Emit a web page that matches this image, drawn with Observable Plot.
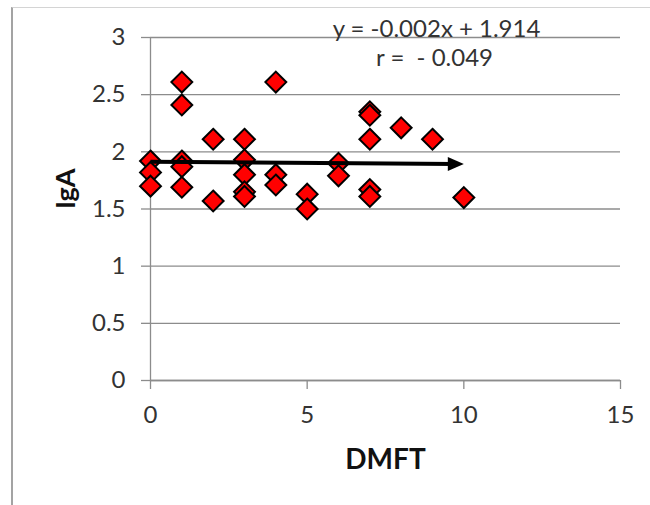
<!DOCTYPE html>
<html>
<head>
<meta charset="utf-8">
<script src="https://cdn.jsdelivr.net/npm/d3@7"></script>
<script src="https://cdn.jsdelivr.net/npm/@observablehq/plot@0.6"></script>
<style>
  html, body { margin: 0; padding: 0; background: #fff; }
  #wrap { position: relative; width: 650px; height: 505px; overflow: hidden; }
  #border { position: absolute; left: 11px; top: 7px; right: -2px; bottom: -2px;
            border-top: 1px solid #d4d4d4; border-left: 2px solid #a3a3a3; pointer-events: none; }
  svg text { white-space: pre; }
</style>
</head>
<body>
<div id="wrap"><div id="border"></div></div>
<script>
// Data
const dmft = [0, 0, 0, 1, 1, 1, 1, 1, 2, 2, 3, 3, 3, 3, 3, 4, 4, 4, 5, 5, 6, 6, 7, 7, 7, 7, 7, 8, 9, 10];
const iga  = [1.92, 1.82, 1.70, 2.61, 2.41, 1.92, 1.87, 1.69, 2.11, 1.57, 2.11, 1.93, 1.80, 1.65, 1.61,
              2.61, 1.80, 1.71, 1.63, 1.50, 1.90, 1.79, 2.35, 2.32, 2.11, 1.67, 1.61, 2.21, 2.11, 1.60];
const xTicks = [0, 5, 10, 15];
const yTicks = [0, 0.5, 1, 1.5, 2, 2.5, 3];
const slope = -0.002;
const intercept = 1.914;
const trendX = [0, 10];
const eqLabel = "y = -0.002x + 1.914";
const rLabel = "r =  - 0.049";
const xTitle = "DMFT";
const yTitle = "IgA";

const points = dmft.map((d, i) => ({x: d, y: iga[i]}));
const trend = [{x1: trendX[0], y1: slope * trendX[0] + intercept, x2: trendX[1], y2: slope * trendX[1] + intercept}];

const arrowHead = {
  draw(ctx, size) {
    const l = Math.sqrt(size);
    ctx.moveTo(0, 0);
    ctx.lineTo(-l, -0.44 * l);
    ctx.lineTo(-l, 0.44 * l);
    ctx.closePath();
  }
};

const gray = "#8c8c8c";
const chart = Plot.plot({
  width: 650,
  height: 505,
  marginLeft: 150,
  marginRight: 30,
  marginTop: 37,
  marginBottom: 125,
  style: {fontFamily: "Lato, 'Open Sans', sans-serif", background: "transparent", color: "#333"},
  x: {domain: [0, 15]},
  y: {domain: [0, 3]},
  marks: [
    Plot.gridY(yTicks, {stroke: gray, strokeOpacity: 1, strokeWidth: 1.3}),
    Plot.ruleX([0], {stroke: gray, strokeWidth: 1.3}),
    Plot.ruleY([0], {stroke: gray, strokeWidth: 1.3}),
    Plot.axisY({ticks: yTicks, tickSize: 9, tickPadding: 16, stroke: gray, strokeWidth: 1.3, fill: "#333",
                fontSize: 24, tickFormat: d => String(d), label: null}),
    Plot.axisX({ticks: xTicks, tickSize: 9, tickPadding: 16, stroke: gray, strokeWidth: 1.3, fill: "#333",
                fontSize: 24, tickFormat: d => String(d), label: null}),
    Plot.dot(points, {x: "x", y: "y", symbol: "diamond2", r: 9.4, fill: "#ff0000", stroke: "#000", strokeWidth: 2}),
    Plot.arrow(trend, {x1: "x1", y1: "y1", x2: "x2", y2: "y2", headLength: 0, insetEnd: 8,
                       stroke: "#000", strokeWidth: 4, strokeLinecap: "butt"}),
    Plot.dot(trend, {x: "x2", y: "y2", symbol: arrowHead, r: 9.03, fill: "#000", stroke: null}),
    Plot.text([eqLabel], {frameAnchor: "top", dx: 51, dy: -8, lineAnchor: "middle", fontSize: 24, fill: "#333"}),
    Plot.text([rLabel], {frameAnchor: "top", dx: 49, dy: 20.5, lineAnchor: "middle", fontSize: 24, fill: "#333"}),
    Plot.text([xTitle], {frameAnchor: "bottom", dy: 80, lineAnchor: "middle", fontSize: 28, fontWeight: "bold", fill: "#111"}),
    Plot.text([yTitle], {frameAnchor: "left", dx: -84, rotate: -90, lineAnchor: "middle", fontSize: 27, fontWeight: "bold", fill: "#111"})
  ]
});
document.getElementById("wrap").prepend(chart);
</script>
</body>
</html>
